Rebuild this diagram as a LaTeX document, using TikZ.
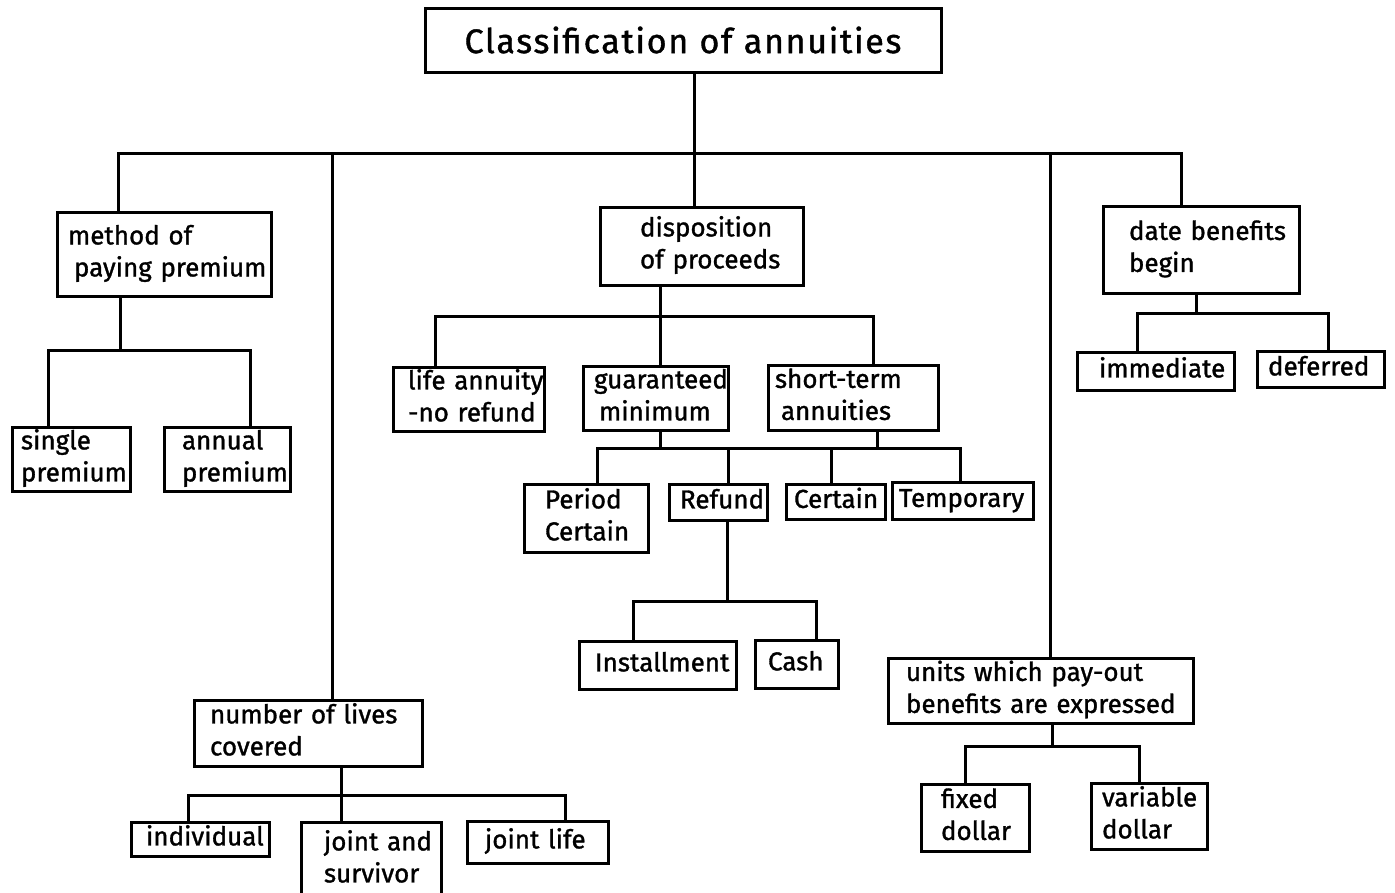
\documentclass[tikz,border=0pt]{standalone}
\usepackage{fontspec}
\setmainfont{Fira Sans}[FakeBold=1.2]
\begin{document}
\begin{tikzpicture}[x=1pt,y=-1pt,
  bx/.style={draw=black, line width=3pt, inner xsep=0pt, inner ysep=0pt, align=left,
    font=\fontsize{26}{32}\selectfont},
  conn/.style={draw=black, line width=3pt, line cap=rect, line join=miter}]
\useasboundingbox[fill=white] (0,0) rectangle (1395,892);
% box macro: name, x1, y1, x2, y2, left padding, text
\newcommand{\annbox}[7]{%
  \pgfmathsetmacro\bw{#4-#2}%
  \pgfmathsetmacro\bh{#5-#3}%
  \pgfmathsetmacro\tw{#4-#2-2*#6}%
  \pgfmathsetmacro\cx{(#2+#4)/2}%
  \pgfmathsetmacro\cy{(#3+#5)/2}%
  \node[bx, minimum width=\bw pt, minimum height=\bh pt, text width=\tw pt] (#1) at (\cx,\cy)
    {\begin{tabular}{@{}l@{}}#7\end{tabular}};}
% title
\node[bx, minimum width=516pt, minimum height=64pt, align=center, text width=500pt,
  font=\fontsize{34}{38}\selectfont] (title) at (683,40) {\addfontfeature{LetterSpace=5}Classification of annuities};
% level 1
\annbox{method}{57}{212}{271}{296}{11}{method of\\\hspace*{6pt}paying premium}
\annbox{disp}{600}{207}{803}{285}{40}{disposition\\of proceeds}
\annbox{date}{1103}{206}{1299}{293}{26}{date benefits\\begin}
\annbox{lives}{194}{700}{422}{766}{16}{number of lives\\covered}
\annbox{units}{888}{658}{1193}{723}{18}{units which pay-out\\benefits are expressed}
% method children
\annbox{single}{12}{428}{130}{490}{9}{single\\premium}
\annbox{annual}{164}{427}{290}{491}{18}{annual\\premium}
% disposition children
\annbox{life}{393}{367}{544}{431}{15}{life annuity\\-no refund}
\annbox{guar}{583}{366}{728}{430}{11}{guaranteed\\\hspace*{5pt}minimum}
\annbox{short}{768}{365}{938}{430}{7}{short-term\\\hspace*{6pt}annuities}
\annbox{period}{524}{484}{648}{552}{21}{Period\\Certain}
\annbox{refund}{669}{484}{767}{520}{11}{Refund}
\annbox{certain}{786}{484}{885}{519}{8}{Certain}
\annbox{temp}{892}{482}{1033}{519}{7}{Temporary}
\annbox{inst}{579}{641}{736}{689}{16}{Installment}
\annbox{cash}{755}{640}{838}{688}{13}{Cash}
% date children
\annbox{immed}{1077}{352}{1234}{390}{22}{immediate}
\annbox{defer}{1257}{351}{1384}{387}{11}{deferred}
% lives children
\annbox{indiv}{131}{822}{269}{856}{15}{individual}
\annbox{jands}{301}{822}{441}{898}{23}{joint and\\survivor}
\annbox{jlife}{467}{821}{608}{863}{18}{joint life}
% units children
\annbox{fixed}{921}{784}{1029}{851}{20}{fixed\\dollar}
\annbox{var}{1091}{783}{1207}{849}{11}{variable\\dollar}
% junction coordinates
\coordinate (A1) at (118,153); \coordinate (A2) at (332,153);
\coordinate (A3) at (694,153); \coordinate (A4) at (1050,153);
\coordinate (A5) at (1181,153);
\coordinate (M0) at (120,350); \coordinate (M1) at (48,350); \coordinate (M2) at (250,350);
\coordinate (D0) at (660,316); \coordinate (D1) at (435,316); \coordinate (D3) at (873,316);
\coordinate (G0) at (660,448); \coordinate (S0) at (877,448);
\coordinate (E1) at (597,448); \coordinate (E2) at (728,448);
\coordinate (E3) at (831,448); \coordinate (E4) at (960,448);
\coordinate (R0) at (727,601); \coordinate (R1) at (633,601); \coordinate (R2) at (816,601);
\coordinate (B0) at (1196,313); \coordinate (B1) at (1137,313); \coordinate (B2) at (1328,313);
\coordinate (U0) at (1052,746); \coordinate (U1) at (965,746); \coordinate (U2) at (1139,746);
\coordinate (L0) at (341,795); \coordinate (L1) at (188,795); \coordinate (L2) at (565,795);
% top level connectors
\draw[conn] (title.south -| A3) -- (A3);
\draw[conn] (method.north -| A1) -- (A1) -- (A5) -- (date.north -| A5);
\draw[conn] (A2) -- (lives.north -| A2);
\draw[conn] (A3) -- (disp.north -| A3);
\draw[conn] (A4) -- (units.north -| A4);
% method
\draw[conn] (method.south -| M0) -- (M0);
\draw[conn] (single.north -| M1) -- (M1) -- (M2) -- (annual.north -| M2);
% disposition
\draw[conn] (disp.south -| D0) -- (D0);
\draw[conn] (life.north -| D1) -- (D1) -- (D3) -- (short.north -| D3);
\draw[conn] (D0) -- (guar.north -| D0);
\draw[conn] (guar.south -| G0) -- (G0);
\draw[conn] (short.south -| S0) -- (S0);
\draw[conn] (period.north -| E1) -- (E1) -- (E4) -- (temp.north -| E4);
\draw[conn] (E2) -- (refund.north -| E2);
\draw[conn] (E3) -- (certain.north -| E3);
\draw[conn] (refund.south -| R0) -- (R0);
\draw[conn] (inst.north -| R1) -- (R1) -- (R2) -- (cash.north -| R2);
% date
\draw[conn] (date.south -| B0) -- (B0);
\draw[conn] (immed.north -| B1) -- (B1) -- (B2) -- (defer.north -| B2);
% units
\draw[conn] (units.south -| U0) -- (U0);
\draw[conn] (fixed.north -| U1) -- (U1) -- (U2) -- (var.north -| U2);
% lives
\draw[conn] (lives.south -| L0) -- (L0);
\draw[conn] (indiv.north -| L1) -- (L1) -- (L2) -- (jlife.north -| L2);
\draw[conn] (L0) -- (jands.north -| L0);
\end{tikzpicture}
\end{document}
